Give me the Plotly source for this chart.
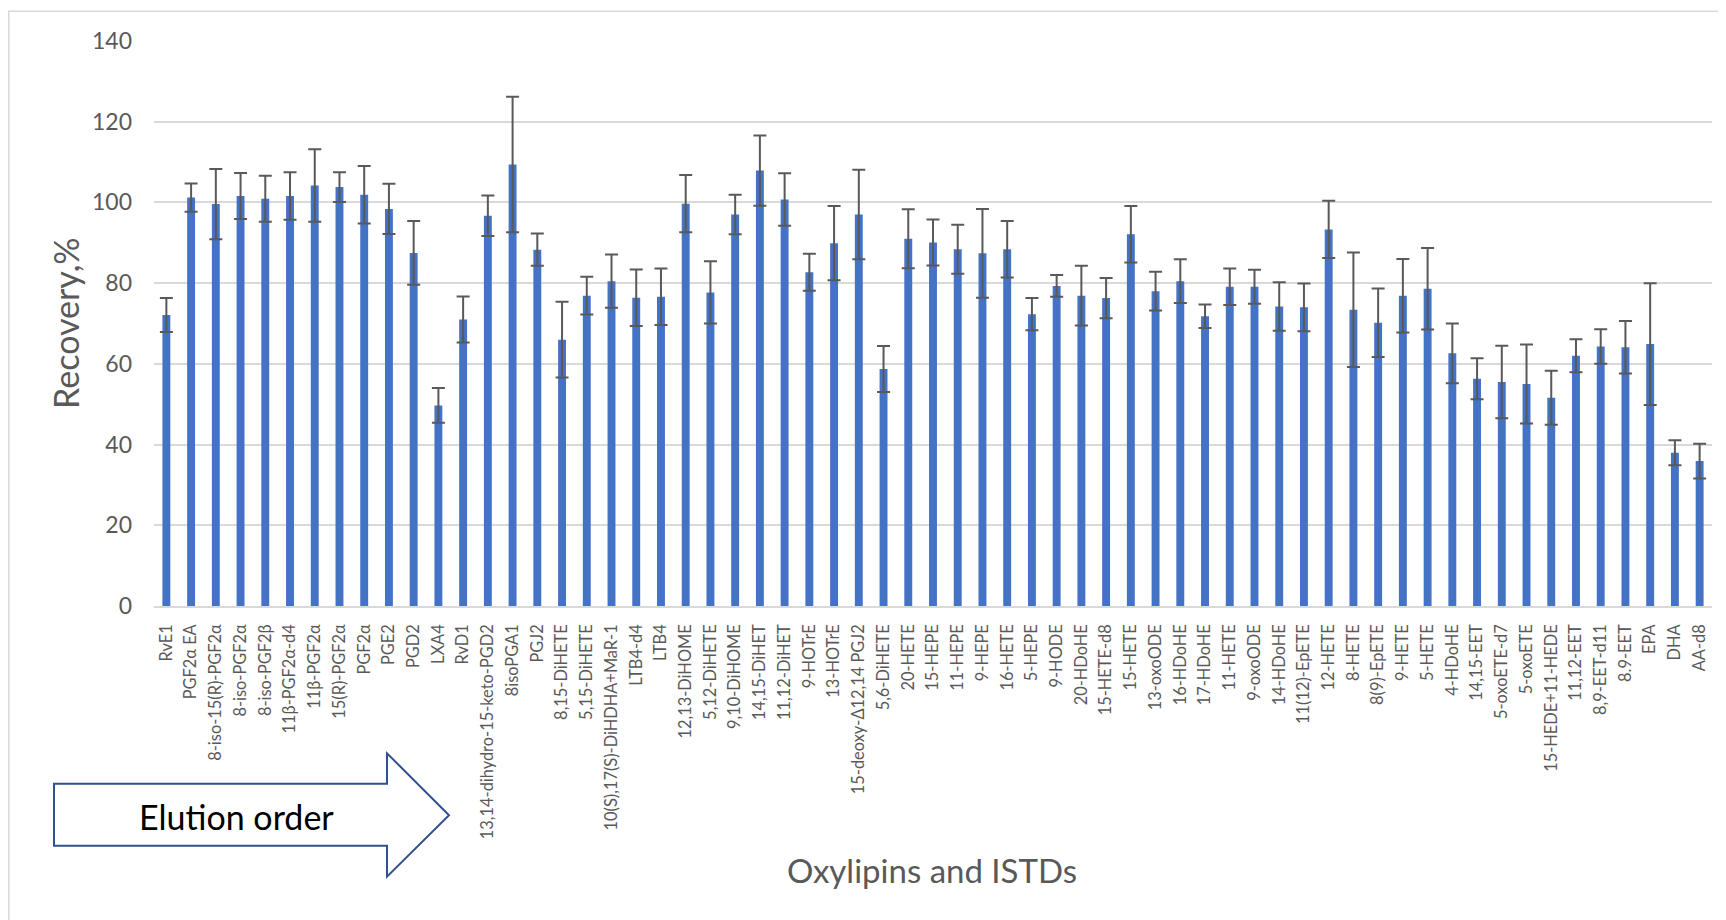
import plotly.graph_objects as go

categories = [
    "RvE1", "PGF2α EA", "8-iso-15(R)-PGF2α", "8-iso-PGF2α", "8-iso-PGF2β",
    "11β-PGF2α-d4", "11β-PGF2α", "15(R)-PGF2α", "PGF2α", "PGE2", "PGD2",
    "LXA4", "RvD1", "13,14-dihydro-15-keto-PGD2", "8isoPGA1", "PGJ2",
    "8,15-DiHETE", "5,15-DiHETE", "10(S),17(S)-DiHDHA+MaR-1", "LTB4-d4",
    "LTB4", "12,13-DiHOME", "5,12-DiHETE", "9,10-DiHOME", "14,15-DiHET",
    "11,12-DiHET", "9-HOTrE", "13-HOTrE", "15-deoxy-Δ12,14 PGJ2",
    "5,6-DiHETE", "20-HETE", "15-HEPE", "11-HEPE", "9-HEPE", "16-HETE",
    "5-HEPE", "9-HODE", "20-HDoHE", "15-HETE-d8", "15-HETE", "13-oxoODE",
    "16-HDoHE", "17-HDoHE", "11-HETE", "9-oxoODE", "14-HDoHE",
    "11(12)-EpETE", "12-HETE", "8-HETE", "8(9)-EpETE", "9-HETE", "5-HETE",
    "4-HDoHE", "14,15-EET", "5-oxoETE-d7", "5-oxoETE", "15-HEDE+11-HEDE",
    "11,12-EET", "8,9-EET-d11", "8.9-EET", "EPA", "DHA", "AA-d8",
]

recovery = [
    72.1, 101.2, 99.6, 101.6, 100.9, 101.6, 104.2, 103.8, 101.9, 98.4, 87.5,
    49.7, 71.0, 96.7, 109.4, 88.3, 66.0, 76.9, 80.5, 76.4, 76.6, 99.7, 77.7,
    97.0, 107.9, 100.7, 82.7, 89.9, 97.0, 58.7, 91.0, 90.1, 88.4, 87.4, 88.4,
    72.3, 79.3, 76.9, 76.3, 92.1, 78.0, 80.5, 71.8, 79.1, 79.1, 74.2, 74.0,
    93.3, 73.4, 70.2, 76.9, 78.6, 62.6, 56.3, 55.5, 55.0, 51.6, 62.0, 64.3,
    64.1, 64.9, 38.0, 35.9,
]

sd = [
    4.2, 3.5, 8.7, 5.7, 5.7, 5.9, 9.0, 3.7, 7.1, 6.2, 7.9, 4.3, 5.7, 5.0,
    16.8, 4.0, 9.4, 4.7, 6.6, 7.0, 7.0, 7.1, 7.7, 4.9, 8.7, 6.5, 4.6, 9.2,
    11.1, 5.7, 7.3, 5.7, 6.1, 11.0, 7.0, 4.0, 2.7, 7.4, 5.0, 7.0, 4.8, 5.4,
    2.9, 4.5, 4.2, 6.0, 5.9, 7.1, 14.2, 8.5, 9.1, 10.1, 7.4, 5.1, 9.0, 9.8,
    6.7, 4.1, 4.3, 6.5, 15.1, 3.1, 4.3,
]

y_ticks = [0, 20, 40, 60, 80, 100, 120, 140]

# page has an 8px body margin; figure sized to fit the window
OFF = 8
W, H = 1718, 912
PLOT_L, PLOT_R, PLOT_T, PLOT_B = 154, 1712, 40.7, 606.5   # page pixels
L = PLOT_L - OFF
R = OFF + W - PLOT_R
T = PLOT_T - OFF
B = OFF + H - PLOT_B


def px(x):
    return (x - PLOT_L) / (PLOT_R - PLOT_L)


def py(y):
    return (PLOT_B - y) / (PLOT_B - PLOT_T)


FONT = "Lato"
GRAY = "#595959"

fig = go.Figure()
fig.add_trace(go.Bar(
    x=categories,
    y=recovery,
    marker=dict(color="#4472C4", line=dict(width=0)),
    error_y=dict(type="data", array=sd, visible=True, color=GRAY,
                 thickness=2, width=6.5),
))

# Block arrow "Elution order"
arrow_pts = [(54, 784.5), (387, 784.5), (387, 754), (449, 816),
             (387, 877.5), (387, 846.5), (54, 846.5)]
path = "M " + " L ".join(f"{px(a):.5f},{py(b):.5f}" for a, b in arrow_pts) + " Z"

shapes = [
    dict(type="path", xref="paper", yref="paper", path=path,
         line=dict(color="#2F528F", width=2), fillcolor="white", layer="above"),
    dict(type="rect", xref="paper", yref="paper",
         x0=px(8.8), x1=px(1760), y0=py(11), y1=py(960),
         line=dict(color="#D9D9D9", width=1.5), fillcolor="rgba(0,0,0,0)",
         layer="below"),
]

annotations = [
    dict(text="Elution order", x=px(236), y=py(817), xref="paper",
         yref="paper", showarrow=False, xanchor="center", yanchor="middle",
         font=dict(family=FONT, size=34, color="black")),
    dict(text="Oxylipins and ISTDs", x=px(932), y=py(871), xref="paper",
         yref="paper", showarrow=False, xanchor="center", yanchor="middle",
         font=dict(family=FONT, size=33, color=GRAY)),
    dict(text="Recovery,%", x=px(66), y=py(323), xref="paper",
         yref="paper", showarrow=False, xanchor="center", yanchor="middle",
         textangle=-90,
         font=dict(family=FONT, size=34, color=GRAY)),
]

fig.update_layout(
    width=W, height=H,
    margin=dict(l=L, r=R, t=T, b=B, pad=0),
    paper_bgcolor="white", plot_bgcolor="white",
    showlegend=False,
    bargap=0.68,
    font=dict(family=FONT, color=GRAY),
    shapes=shapes,
    annotations=annotations,
    xaxis=dict(
        type="category", tickangle=-90,
        tickfont=dict(family=FONT, size=16.4, color=GRAY),
        showgrid=False, showline=True, linecolor="#D9D9D9", linewidth=1.5,
        ticks="", ticklabelstandoff=10,
        automargin=False,
    ),
    yaxis=dict(
        range=[0, 140], tickvals=y_ticks,
        tickfont=dict(family=FONT, size=23, color=GRAY),
        showgrid=True, gridcolor="#D9D9D9", gridwidth=1.5,
        zeroline=False, showline=False, ticks="",
        ticklabelstandoff=21,
        automargin=False,
    ),
)

fig.write_html("out.html")
